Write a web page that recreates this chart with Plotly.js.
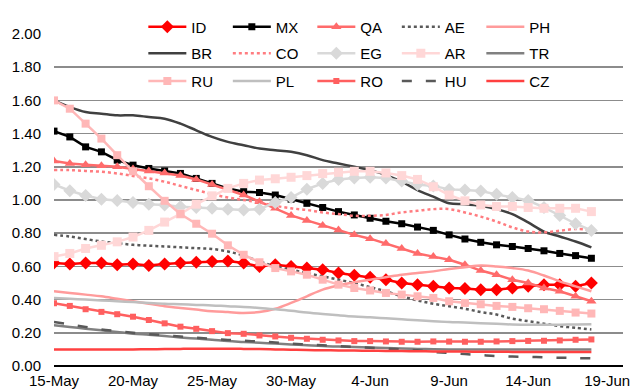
<!DOCTYPE html>
<html>
<head>
<meta charset="utf-8">
<script src="https://cdn.plot.ly/plotly-3.0.1.min.js"></script>
<style>html,body{margin:0;padding:0;background:#fff;}#chart{width:634px;height:392px;}</style>
</head>
<body>
<div id="chart"></div>
<script>
// Dates: 15-May to 18-Jun (daily)
var dates = [];
(function(){ var d = new Date(Date.UTC(2020,4,15)); for (var i=0;i<35;i++){ dates.push(new Date(d.getTime()+i*86400000).toISOString().slice(0,10)); } })();

var tickDates = ['2020-05-15','2020-05-20','2020-05-25','2020-05-30','2020-06-04','2020-06-09','2020-06-14','2020-06-19'];
var tickLabels = ['15-May','20-May','25-May','30-May','4-Jun','9-Jun','14-Jun','19-Jun'];

var ID = [0.62,0.615,0.62,0.62,0.61,0.615,0.605,0.615,0.62,0.625,0.63,0.632,0.62,0.60,0.61,0.60,0.59,0.58,0.56,0.546,0.534,0.52,0.50,0.49,0.48,0.47,0.467,0.46,0.46,0.47,0.48,0.49,0.49,0.48,0.50];
var MX = [1.415,1.38,1.32,1.29,1.24,1.21,1.19,1.175,1.16,1.13,1.10,1.07,1.05,1.045,1.03,1.005,0.98,0.955,0.93,0.91,0.89,0.872,0.857,0.837,0.817,0.79,0.765,0.745,0.73,0.72,0.708,0.694,0.678,0.665,0.649];
var QA = [1.235,1.22,1.213,1.206,1.20,1.187,1.175,1.163,1.147,1.124,1.094,1.064,1.03,0.99,0.95,0.907,0.877,0.847,0.82,0.79,0.767,0.738,0.708,0.678,0.659,0.64,0.61,0.575,0.55,0.52,0.50,0.47,0.45,0.42,0.39];
var AE = [0.79,0.78,0.765,0.75,0.74,0.73,0.725,0.72,0.715,0.71,0.705,0.69,0.665,0.63,0.60,0.58,0.56,0.54,0.52,0.50,0.475,0.45,0.42,0.395,0.375,0.36,0.345,0.325,0.31,0.285,0.27,0.255,0.24,0.23,0.22];
var PH = [0.45,0.44,0.43,0.42,0.405,0.39,0.375,0.36,0.35,0.34,0.33,0.325,0.32,0.325,0.345,0.38,0.42,0.46,0.485,0.505,0.52,0.535,0.55,0.56,0.57,0.585,0.595,0.605,0.60,0.59,0.575,0.545,0.51,0.48,0.45];
var BR = [1.60,1.56,1.53,1.52,1.51,1.51,1.50,1.49,1.46,1.42,1.38,1.35,1.33,1.31,1.30,1.29,1.27,1.24,1.22,1.20,1.18,1.15,1.11,1.06,1.02,0.98,0.975,0.965,0.945,0.915,0.865,0.81,0.78,0.75,0.715];
var CO = [1.18,1.18,1.175,1.17,1.16,1.145,1.13,1.11,1.085,1.06,1.035,1.015,1.00,0.985,0.965,0.95,0.94,0.925,0.915,0.905,0.905,0.91,0.925,0.935,0.945,0.945,0.925,0.90,0.87,0.835,0.81,0.805,0.815,0.825,0.82];
var EG = [1.094,1.056,1.027,1.005,0.997,0.985,0.975,0.97,0.96,0.955,0.95,0.945,0.94,0.945,0.985,1.015,1.065,1.10,1.123,1.133,1.137,1.133,1.115,1.094,1.085,1.064,1.06,1.054,1.034,1.015,0.997,0.955,0.907,0.857,0.817];
var AR = [0.659,0.678,0.708,0.727,0.748,0.777,0.817,0.867,0.916,0.975,1.025,1.07,1.10,1.12,1.128,1.137,1.147,1.159,1.167,1.173,1.173,1.163,1.147,1.124,1.08,1.03,0.995,0.97,0.961,0.961,0.955,0.95,0.95,0.95,0.93];
var TR = [0.245,0.235,0.225,0.215,0.205,0.195,0.188,0.18,0.172,0.165,0.158,0.15,0.145,0.14,0.135,0.13,0.125,0.12,0.117,0.114,0.111,0.108,0.105,0.103,0.101,0.10,0.10,0.10,0.10,0.10,0.10,0.10,0.10,0.10,0.10];
var RU = [1.60,1.55,1.46,1.37,1.27,1.173,1.083,0.995,0.916,0.857,0.797,0.727,0.67,0.625,0.59,0.57,0.55,0.52,0.49,0.47,0.455,0.44,0.43,0.42,0.41,0.39,0.38,0.372,0.362,0.356,0.348,0.342,0.332,0.322,0.316];
var PL = [0.41,0.405,0.40,0.395,0.39,0.385,0.38,0.375,0.372,0.368,0.365,0.36,0.356,0.35,0.342,0.333,0.322,0.313,0.305,0.298,0.293,0.287,0.281,0.275,0.27,0.265,0.262,0.258,0.254,0.25,0.249,0.249,0.249,0.25,0.252];
var RO = [0.378,0.362,0.342,0.326,0.312,0.297,0.277,0.257,0.237,0.224,0.21,0.198,0.194,0.184,0.178,0.17,0.164,0.158,0.154,0.15,0.15,0.148,0.146,0.146,0.148,0.147,0.146,0.146,0.148,0.15,0.151,0.152,0.154,0.158,0.16];
var HU = [0.265,0.25,0.235,0.22,0.21,0.20,0.192,0.185,0.178,0.17,0.163,0.157,0.152,0.147,0.142,0.135,0.13,0.125,0.12,0.115,0.11,0.105,0.10,0.095,0.085,0.078,0.072,0.066,0.06,0.057,0.055,0.052,0.05,0.048,0.046];
var CZ = [0.10,0.10,0.099,0.099,0.099,0.10,0.101,0.102,0.103,0.104,0.104,0.104,0.103,0.102,0.10,0.098,0.096,0.095,0.094,0.093,0.092,0.091,0.09,0.089,0.088,0.087,0.087,0.086,0.086,0.085,0.085,0.085,0.085,0.085,0.085];

function tr(name, y, color, opts, leg) {
  var t = {x: dates, y: y, name: name, type: 'scatter', legend: leg,
    line: {color: color, width: 2.5, dash: opts.dash || 'solid', shape: opts.shape || 'linear'},
    mode: opts.symbol ? 'lines+markers' : 'lines'};
  if (opts.symbol) t.marker = {symbol: opts.symbol, size: opts.size, color: color, line: {width: 0}};
  return t;
}

var data = [
  tr('ID', ID, '#FF0000', {symbol: 'diamond', size: 10}, 'legend'),
  tr('MX', MX, '#000000', {symbol: 'square', size: 7}, 'legend'),
  tr('QA', QA, '#FF6B6B', {symbol: 'triangle-up', size: 9}, 'legend'),
  tr('AE', AE, '#595959', {dash: 'dot', shape: 'spline'}, 'legend'),
  tr('PH', PH, '#FF9B9B', {shape: 'spline'}, 'legend'),
  tr('BR', BR, '#404040', {shape: 'spline'}, 'legend2'),
  tr('CO', CO, '#FF7C80', {dash: 'dot', shape: 'spline'}, 'legend2'),
  tr('EG', EG, '#D9D9D9', {symbol: 'diamond', size: 10}, 'legend2'),
  tr('AR', AR, '#FFD7D7', {symbol: 'square', size: 9}, 'legend2'),
  tr('TR', TR, '#808080', {shape: 'spline'}, 'legend2'),
  tr('RU', RU, '#FFB7B7', {symbol: 'square', size: 8}, 'legend3'),
  tr('PL', PL, '#BFBFBF', {shape: 'spline'}, 'legend3'),
  tr('RO', RO, '#FF5F5F', {symbol: 'square', size: 6}, 'legend3'),
  tr('HU', HU, '#595959', {dash: '10px,14px', shape: 'spline'}, 'legend3'),
  tr('CZ', CZ, '#FF4040', {shape: 'spline'}, 'legend3')
];

var legFont = {family: 'Liberation Sans, Arial, sans-serif', size: 15, color: '#000'};
function leg(y) {
  return {orientation: 'h', x: 0.157, xanchor: 'left', y: y, yanchor: 'middle',
    bgcolor: 'rgba(0,0,0,0)', font: legFont, entrywidth: 31.5, entrywidthmode: 'pixels',
    itemwidth: 38, tracegroupgap: 0, traceorder: 'normal', itemclick: false};
}

var layout = {
  width: 634, height: 392,
  margin: {l: 54, r: 11, t: 29, b: 26},
  paper_bgcolor: '#fff', plot_bgcolor: '#fff',
  showlegend: true,
  legend: leg(1.021),
  legend2: leg(0.941),
  legend3: leg(0.858),
  font: {family: 'Liberation Sans, Arial, sans-serif', size: 15, color: '#000'},
  xaxis: {
    type: 'date', range: ['2020-05-15', '2020-06-20'],
    tickvals: tickDates, ticktext: tickLabels, showgrid: false,
    showline: false, ticks: '', zeroline: false, ticklabelstandoff: 4,
    tickfont: {size: 15, color: '#000'}
  },
  yaxis: {
    range: [0, 2.0], tickvals: [0,0.2,0.4,0.6,0.8,1.0,1.2,1.4,1.6,1.8,2.0], tickformat: '.2f',
    showgrid: true, gridcolor: '#8C8C8C', gridwidth: 1.5,
    zeroline: true, zerolinecolor: '#000', zerolinewidth: 1.5,
    ticks: '', showline: false, ticklabelstandoff: 12,
    tickfont: {size: 15, color: '#000'}
  }
};

Plotly.newPlot('chart', data, layout, {displayModeBar: false, staticPlot: true});
</script>
</body>
</html>
